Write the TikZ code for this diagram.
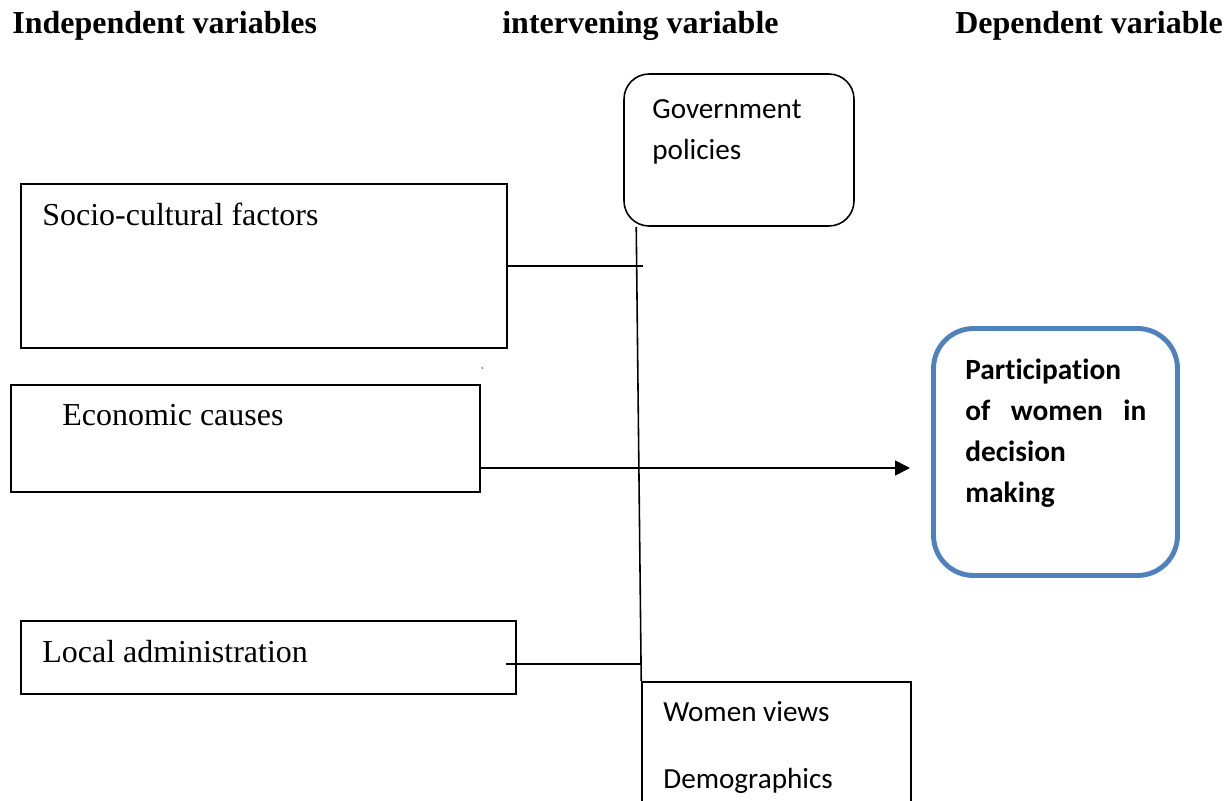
\documentclass[tikz,border=0pt]{standalone}
\usepackage{fontspec}
\setmainfont{Liberation Serif}
\newfontfamily\calib[Ligatures=NoCommon]{Carlito}
\usepackage{xcolor}
\usepackage{tikz}
\usetikzlibrary{positioning,calc,arrows.meta}
\definecolor{boxblue}{HTML}{4F81BD}

\begin{document}
\begin{tikzpicture}[x=0.02cm, y=-0.02cm,
    head/.style={font=\bfseries\fontsize{18.2}{22}\selectfont, anchor=base west, inner sep=0},
    serif/.style={font=\fontsize{18.2}{22}\selectfont, anchor=base west, inner sep=0},
    calibri/.style={font=\calib\fontsize{16.6}{23.5}\selectfont, anchor=base west, inner sep=0},
    varbox/.style={draw, line width=0.9pt, inner sep=0},
    line/.style={line width=0.9pt},
    arr/.style={line width=0.9pt, -{Triangle[length=0.3cm, width=0.3cm]}}]
    \useasboundingbox (0,0) rectangle (1231,801);
    \clip (0,0) rectangle (1231,801);

    % Headings
    \node[head] (indep) at (12,33) {Independent variables};
    \node[head] (interv) at (502,33) {intervening variable};
    \node[head] (dep) at (955,33) {Dependent variable};

    % Independent variables
    \node[varbox, minimum width=9.72cm, minimum height=3.28cm] (socio) at (264,266) {};
    \node[serif] (sociotxt) at (42,225) {Socio-cultural factors};
    \node[varbox, minimum width=9.38cm, minimum height=2.14cm] (econ) at (245.5,438.5) {};
    \node[serif] (econtxt) at (62,425) {Economic causes};
    \node[varbox, minimum width=9.9cm, minimum height=1.46cm] (local) at (268.5,657.5) {};
    \node[serif] (localtxt) at (42,662) {Local administration};
    \fill (482,368) circle (0.015cm);

    % Intervening variables
    \node[varbox, rounded corners=0.5cm, minimum width=4.6cm, minimum height=3.04cm] (gov) at (739,150) {};
    \node[calibri, align=left, anchor=north west] (govtxt) at (652,99) {Government\\policies};
    \node[varbox, minimum width=5.38cm, minimum height=3.12cm] (women) at (776.5,760) {};
    \node[calibri] (womentxt) at (663,721) {Women views};
    \node[calibri] (demotxt) at (663,788) {Demographics};

    % Dependent variable
    \node[draw=boxblue, line width=2.8pt, rounded corners=0.8cm, inner sep=0,
        minimum width=4.88cm, minimum height=4.94cm] (part) at (1055.5,452) {};
    \node[font=\calib\bfseries\fontsize{16.7}{23.3}\selectfont,
        text width=3.62cm, align=left, anchor=north west, inner sep=0] (parttxt) at (965,359)
        {Participation\\\makebox[3.62cm][s]{of\hfill women\hfill in}\\decision\\making};

    % Connectors
    \coordinate (sj) at (643,266);
    \coordinate (lj) at (506,664);
    \coordinate (tip) at (910,468);
    \draw[line] ([xshift=0.26cm]gov.south west) -- (women.north west);
    \draw[line] (socio.east) -- (sj);
    \draw[line] (lj) -- (lj -| women.west);
    \draw[arr] (econ.east |- tip) -- (tip);
\end{tikzpicture}
\end{document}
